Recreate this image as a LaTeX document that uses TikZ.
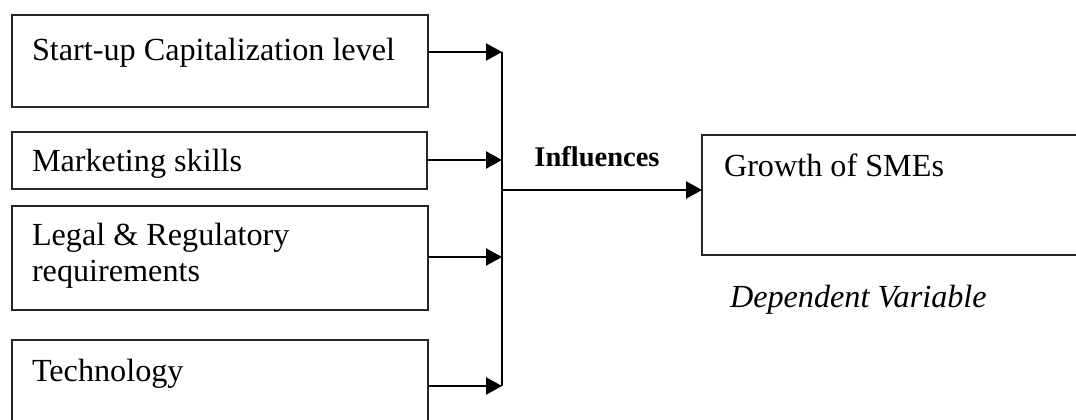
\documentclass[tikz,border=0pt]{standalone}
\usepackage{fontspec}
\setmainfont{Liberation Serif}
\usetikzlibrary{arrows.meta}
\tikzset{
  box/.style={draw=black!85, line width=1.3pt, rectangle, inner sep=0pt, outer sep=0pt, fill=none},
  lbl/.style={anchor=base west, inner sep=0pt, outer sep=0pt, font=\fontsize{32.2}{36}\selectfont},
  conn/.style={line width=2.2pt, black},
  arr/.style={conn, -{Triangle[length=16pt, width=17pt]}},
}
\begin{document}
\begin{tikzpicture}[x=1pt, y=-1pt]
\useasboundingbox (0,0) rectangle (1076,420);
% input boxes
\node[box, minimum width=416pt, minimum height=92pt] (b1) at (220,61) {};
\node[box, minimum width=415pt, minimum height=57pt] (b2) at (219.5,160.5) {};
\node[box, minimum width=416pt, minimum height=104pt] (b3) at (220,258) {};
\node[box, minimum width=416pt, minimum height=100pt] (b4) at (220,390) {};
% output box
\node[box, minimum width=398pt, minimum height=120pt] (g) at (901,195) {};
% texts
\node[lbl] (t1) at (32,60) {Start-up Capitalization level};
\node[lbl] (t2) at (32,171) {Marketing skills};
\node[lbl] (t3a) at (32,245) {Legal \& Regulatory};
\node[lbl] (t3b) at (32,281) {requirements};
\node[lbl] (t4) at (32,381) {Technology};
\node[lbl] (tg) at (724,176) {Growth of SMEs};
\node[anchor=base, inner sep=0pt, font=\fontsize{28.5}{32}\selectfont\bfseries] (inf) at (597,166) {Influences};
\node[lbl, font=\fontsize{32.2}{36}\selectfont\itshape] (dv) at (730,307) {Dependent Variable};
% junctions
\coordinate (j1) at (502,52);
\coordinate (j2) at (502,160);
\coordinate (j3) at (502,257);
\coordinate (j4) at (502,386);
\coordinate (jm) at (502,190);
% connectors
\draw[arr] (b1.east |- j1) -- (j1);
\draw[arr] (b2.east |- j2) -- (j2);
\draw[arr] (b3.east |- j3) -- (j3);
\draw[arr] (b4.east |- j4) -- (j4);
\draw[conn] (j1) -- (j4);
\draw[arr] (jm) -- (g.west |- jm);
\end{tikzpicture}
\end{document}
